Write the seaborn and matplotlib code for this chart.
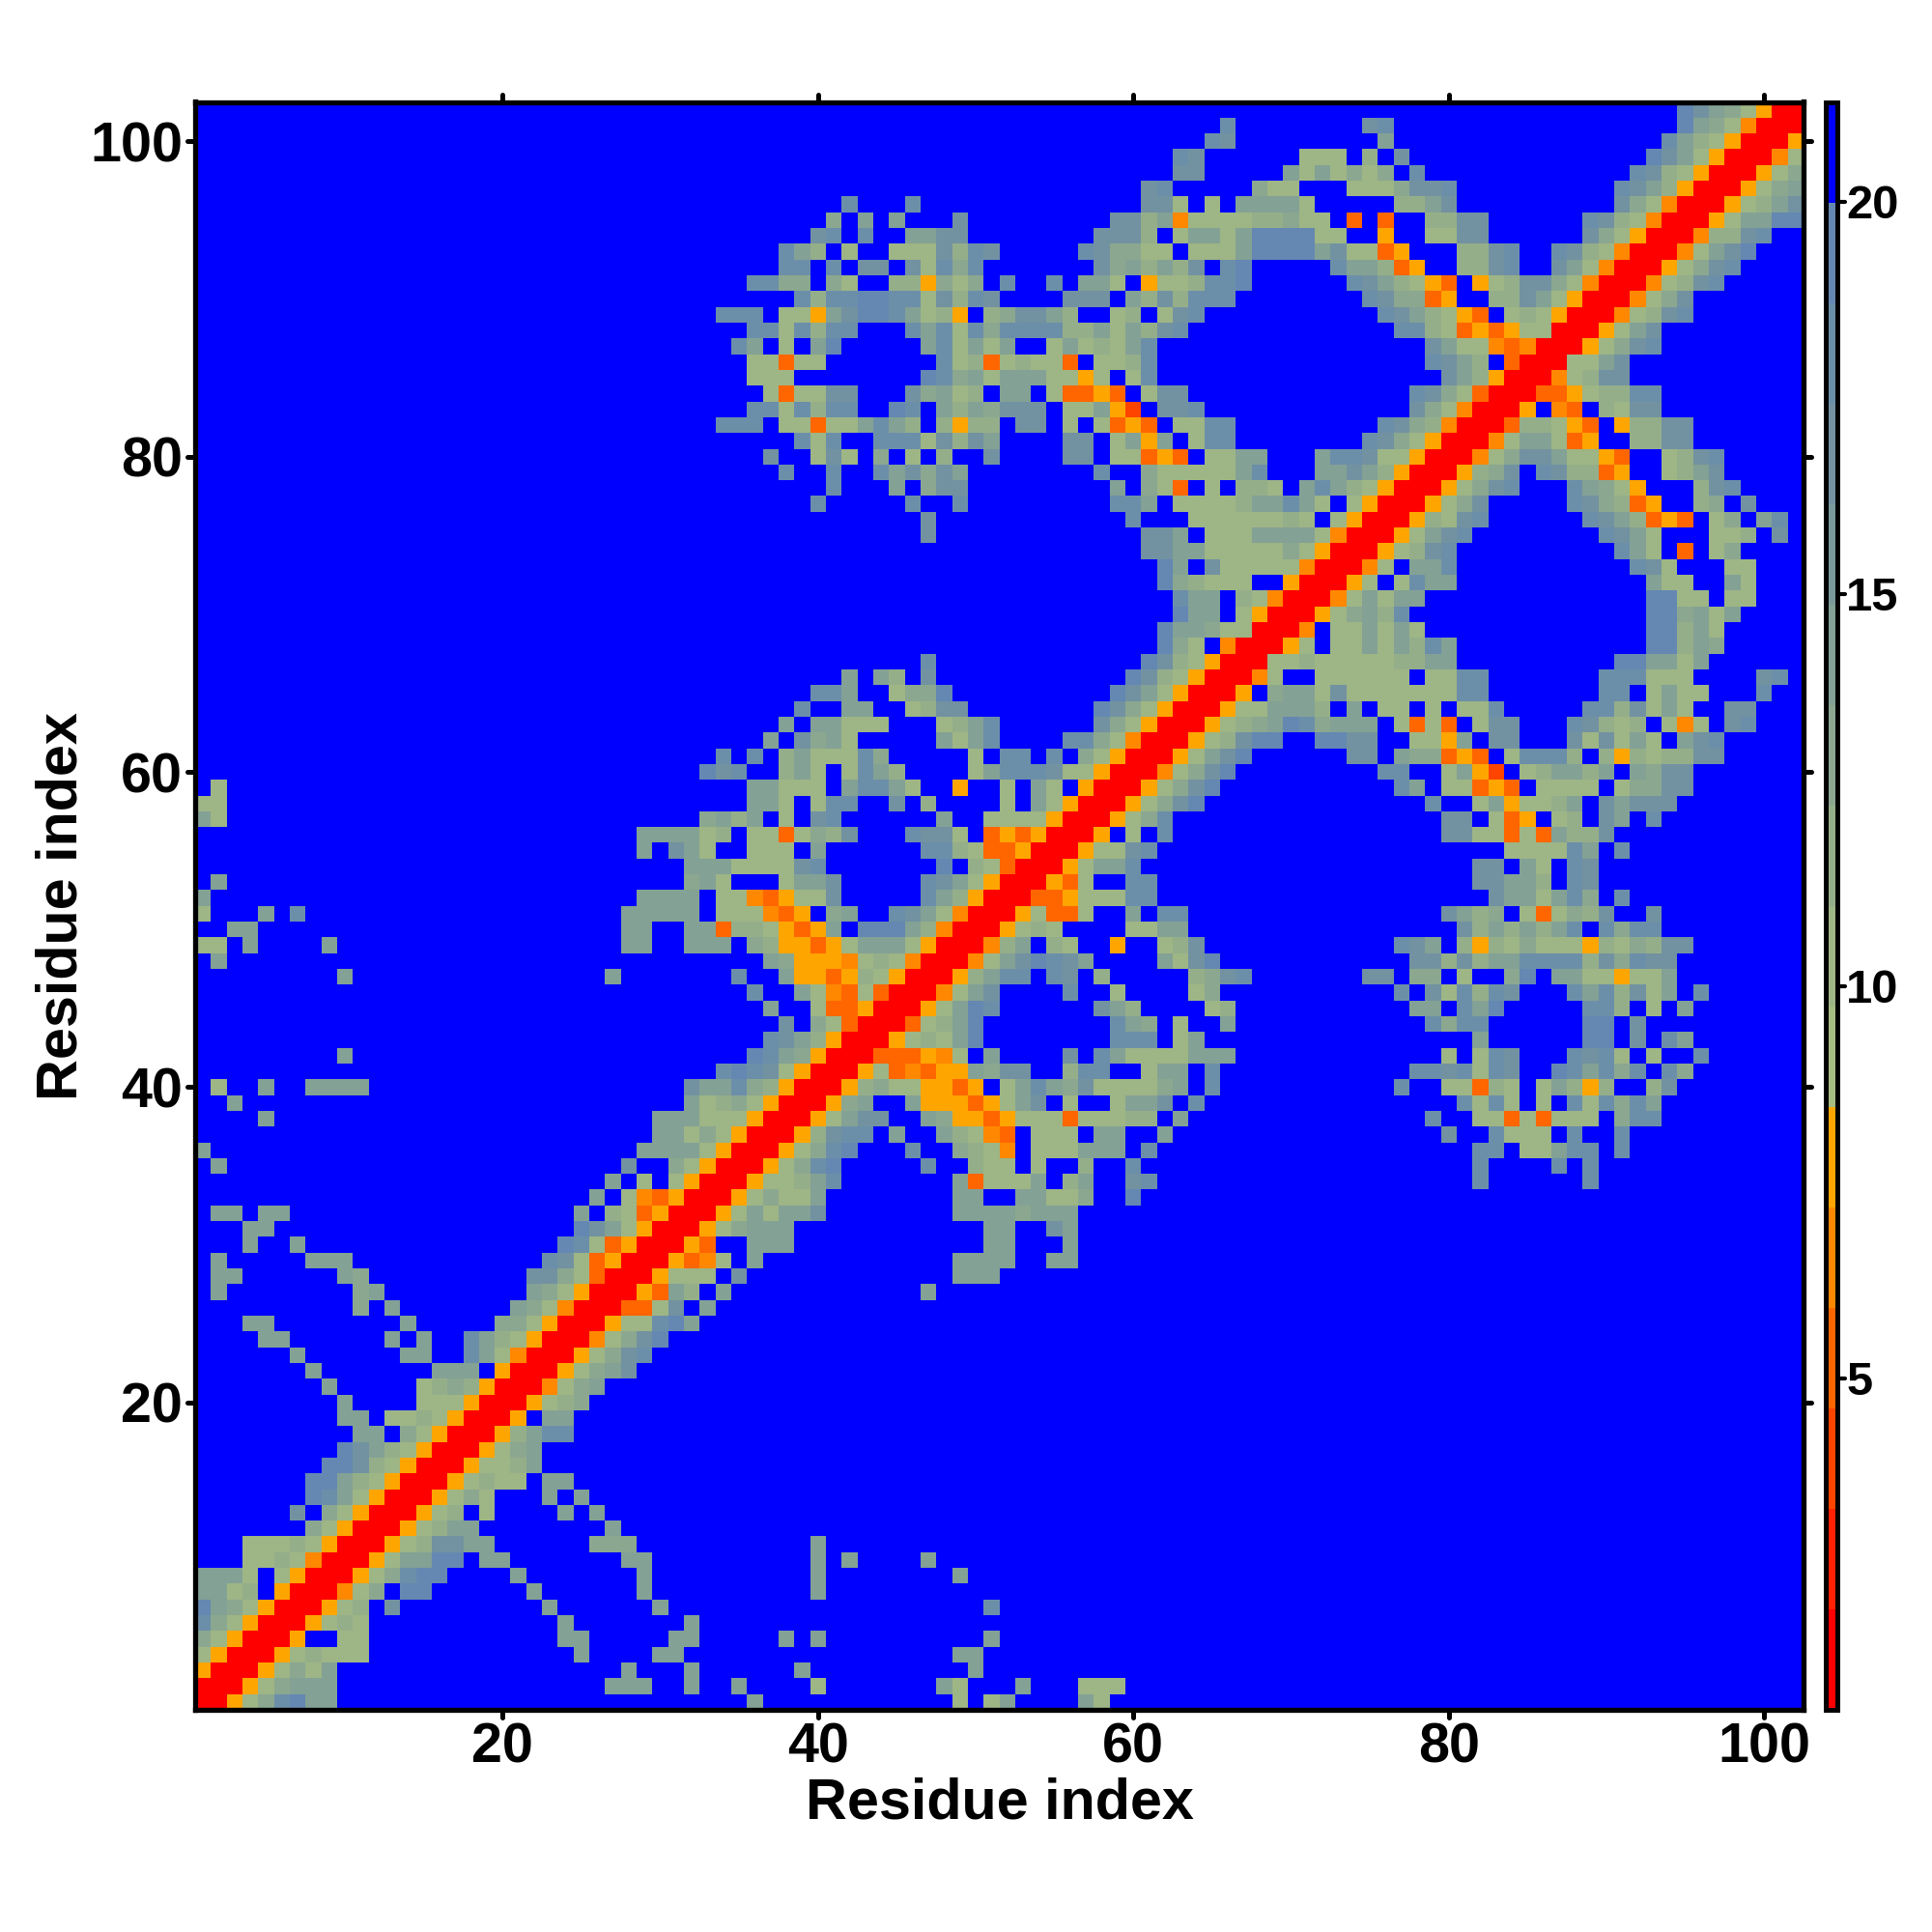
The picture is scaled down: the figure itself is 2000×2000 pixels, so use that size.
import matplotlib
matplotlib.use("Agg")
import matplotlib.pyplot as plt
from matplotlib.colors import ListedColormap
from matplotlib.markers import MarkerStyle
import numpy as np
import seaborn as sns

# distance map, upper triangle, one entry per residue
# "col:levels" runs, "." is a cell left in the top (blue) bin
UPPER_ROWS = [
    "1:00e79CDAA 36:A 49:7.7A 57:A7",
    "2:00e79AAA 27:AAA 32:A 35:A 40:7 48:A7 53:A 57:777",
    "3:00e797A 28:A 32:A 39:A 50:A",
    "4:00e78777 25:A 30:AA 49:AA",
    "5:00e..77 24:AA 31:AA 38:A.A 51:A",
    "6:00e787 24:A 32:A",
    "7:00e78.B 23:A 30:A 51:C",
    "8:00d79.DD 22:A 29:A 40:A",
    "9:00e79CDD 21:A 29:A 40:A 49:A",
    "10:00e7AADD.AA 28:AA 40:A.A 47:A",
    "11:00e78BBAA 26:999 40:A",
    "12:00e78AA 27:A",
    "13:00e78.7 24:A.A",
    "14:00e797 23:A.A",
    "15:00e7877.AA",
    "16:00e778A",
    "17:00e79A",
    "18:00e8ACC",
    "19:00e.AA",
    "20:00e789",
    "21:00d79A",
    "22:00e79AB",
    "23:00e79BC",
    "24:00d79BD",
    "25:00e77CDA",
    "26:00cc7B.A",
    "27:00ecA8.A 47:A",
    "28:00e777.B 49:AAA",
    "29:00ecd7.A 49:AAAA 55:AA",
    "30:00ec..AAA 51:AA 56:A",
    "31:00e79AAA 51:AA 55:BA",
    "32:00e7A7AAB 49:AAAA9AAA",
    "33:00e7977A 49:AA..AA779 60:D",
    "34:00e778AC 49:Ac777A.8A 60:BC 82:C 89:C",
    "35:00e79CD 47:C 50:877.7 57:8 60:C 82:C 87:C.C",
    "36:00e79CD 46:C 49:987d.777AAA.C 82:CC.77ACC.C",
    "37:00e8BCC.A..A87dc.777.AA..A 80:B..C777.C..C",
    "38:00e7ABB..A9eece777c77788.A 79:C..77c7c777.9CC",
    "39:00e9A..Aeeece7AB.7..7AAB.C 81:C7C7.7.C7C9CA",
    "40:00e8977eece.7ACA9B77779A.C 77:C..77c87.7A8e8..8B",
    "41:00e7cdceeA9BB..8CC..7AA.C 78:CCBC7CB..DCAC9C.C9",
    "42:00ccced7.A....B.CA7777AAA 80:7.7CB...CBC7.7..C",
    "43:00e787AD 59:CCC.7A 82:A 89:DD.B.CA",
    "44:00c78AD 59:CA9.7..A 79:C9CC 89:DD.B",
    "45:00e7ADC 58:BA8 65:78 78:AA.CAD 89:CC8.7.A",
    "46:00d7AB 56:C..7 64:79 77:C.B7C8CB 88:CAC8B7A.C",
    "47:00e8ACC.CB.8 64:89BC 75:BB.99.7..9D.AA77e77A",
    "48:00d7ABDCBA 62:A7BD 78:BB8B8AACCCC8B9CBB",
    "49:00d8A.87..e..78B 77:CBA.8e879777e8798BB",
    "50:00e787 60:77AA 81:B8A8A8AC.C9CC",
    "51:00e7cc7..A.CC 80:BA89.7c798B..B",
    "52:00cce777CC 83:BAA7AC9.C",
    "53:00ec7..CC 82:BBAA8.CB",
    "54:00e7AAC 82:BB.A7.CB",
    "55:00e77BC 84:7777CA.C",
    "56:00e.7.C 80:BB77c7cA88B",
    "57:00e79C 80:BB.7ce.78.BA.C",
    "58:00e79BD 79:C..7Ae778A.BABBB",
    "59:00e79BD 77:CA.77cec.7777.799BB",
    "60:00d79BD 76:CC..7Aeb.78AA8A.A9BB",
    "61:00e7ABD 74:BB.A99cec.7CCC8.8e8788BB",
    "62:00e78BDD..DDBB..77eA.BB...B7B7A7.ABC",
    "63:00e789ADC9AAA.7c7c.7BB...CB878.7d7.BC",
    "64:00e77AAA8.A.77.7.77C.....CC8B7A7..BB",
    "65:00e.9AA7B7777777CC.......CC.7A77...C",
    "66:00d7..777777.77CC.......CCC777....BC",
    "67:007787777788AA 91:DDAA7A",
    "68:00e7.77A7A8CA 93:DD8A9",
    "69:00d.77A7A7 93:DD8A7",
    "70:00e79A8C 93:DD9A7A",
    "71:00d7A7AA 93:DD77.77",
    "72:00e7.7CAA 93:A77..A7",
    "73:00d7.AAC 92:CB7...77",
    "74:00e78BC 91:CA7.c.79",
    "75:00e7ABC 90:CBA7...778.B",
    "76:00e87BC 89:CBA8cec.79.AC",
    "77:00e79B 88:CB98ce..89.B",
    "78:00e79BC 88:CA97e...8BC",
    "79:00e89B.CB88ce..78AB",
    "80:00d79BBA77ec..78BC",
    "81:00d7AA7ce..88BB",
    "82:00c887ec.e88BB",
    "83:00e.dc.87BB",
    "84:00cce788CC",
    "85:00d78BB",
    "86:0077AB",
    "87:00e79BC",
    "88:00e7AB",
    "89:00d78BC",
    "90:00d79B",
    "91:00d78BC",
    "92:00e79BC",
    "93:00d7ABD",
    "94:00d88BC",
    "95:00e7AADD",
    "96:00e78AB",
    "97:00e79A",
    "98:00e79",
    "99:00d7",
    "100:00e",
    "101:00",
    "102:0",
]

# value (bin centre) each level letter stands for
LEVEL_VALUES = {"0": 1.41, "b": 3.97, "c": 5.25, "d": 6.53, "e": 7.81, "7": 10.37,
                "8": 11.65, "9": 12.93, "A": 14.21, "B": 16.77, "C": 18.05, "D": 19.33}
FAR_VALUE = 20.64

BIN_COLORS = ["#FF0000", "#FF2200", "#FF4400", "#FF6600", "#FF8800", "#FFA500",
              "#A6BC80", "#9EB585", "#95AE8A", "#8BA790", "#83A195", "#7A999B",
              "#7292A1", "#6C8FA9", "#6488B2", "#0000FF"]
CBAR_MIN = 0.77
CBAR_MAX = 21.27
CBAR_TICKS = [5, 10, 15, 20]
AXIS_TICKS = [20, 40, 60, 80, 100]
AXIS_LABEL = "Residue index"

n_res = len(UPPER_ROWS)
dist = np.full((n_res, n_res), FAR_VALUE)
for r, row in enumerate(UPPER_ROWS):
    for seg in row.split():
        col, levels = seg.split(":")
        for j, ch in enumerate(levels):
            if ch != ".":
                c = int(col) - 1 + j
                dist[r, c] = LEVEL_VALUES[ch]
                dist[c, r] = LEVEL_VALUES[ch]

sns.set_style("white")
plt.rcParams["font.family"] = ["Liberation Sans", "DejaVu Sans"]
plt.rcParams["font.weight"] = "bold"
plt.rcParams["text.color"] = "black"
plt.rcParams["axes.labelcolor"] = "black"
plt.rcParams["xtick.labelcolor"] = "black"
plt.rcParams["ytick.labelcolor"] = "black"

W = 2000.0
fig = plt.figure(figsize=(10, 10), dpi=200, facecolor="white")
ax = fig.add_axes([202 / W, 1 - 1770 / W, 1665 / W, 1664.5 / W])
cax = fig.add_axes([1889.5 / W, 1 - 1770 / W, 12 / W, 1664.5 / W])

sns.heatmap(dist, ax=ax, cbar_ax=cax, cmap=ListedColormap(BIN_COLORS),
            vmin=CBAR_MIN, vmax=CBAR_MAX, square=False,
            xticklabels=False, yticklabels=False,
            cbar_kws={"ticks": CBAR_TICKS})
ax.invert_yaxis()

ax.set_xticks([t - 0.5 for t in AXIS_TICKS])
ax.set_yticks([t - 0.5 for t in AXIS_TICKS])
ax.set_xticklabels(AXIS_TICKS, fontsize=20.7, fontweight="bold", color="black")
ax.set_yticklabels(AXIS_TICKS, fontsize=20.7, fontweight="bold", rotation=0, color="black")
ax.tick_params(axis="both", which="major", length=3, width=1.8, pad=1.6,
               top=True, right=True, bottom=True, left=True, color="black")
ax.set_xlabel(AXIS_LABEL, fontsize=21.4, fontweight="bold", labelpad=0, color="black")
ax.set_ylabel(AXIS_LABEL, fontsize=21.4, fontweight="bold", labelpad=0, color="black")
ax.xaxis.set_label_coords(0.5, -0.0417)
ax.yaxis.set_label_coords(-0.0663, 0.5)

cbar = ax.collections[0].colorbar
cbar.ax.tick_params(length=3, width=1.5, pad=0.5, labelsize=17.6, color="black", labelcolor="black")
for lab in cbar.ax.get_yticklabels():
    lab.set_fontweight("bold")
cbar.outline.set_visible(True)
cbar.outline.set_edgecolor("black")
cbar.outline.set_linewidth(1.8)

for spine in ax.spines.values():
    spine.set_visible(True)
    spine.set_color("black")
    spine.set_linewidth(1.9)

# round ends on the short tick marks
for axis in [ax.xaxis, ax.yaxis, cbar.ax.yaxis]:
    for tick in axis.get_major_ticks():
        for line in [tick.tick1line, tick.tick2line]:
            line.set_marker(MarkerStyle(line.get_marker(), capstyle="round"))

fig.savefig("out.png", dpi=200, facecolor="white")
